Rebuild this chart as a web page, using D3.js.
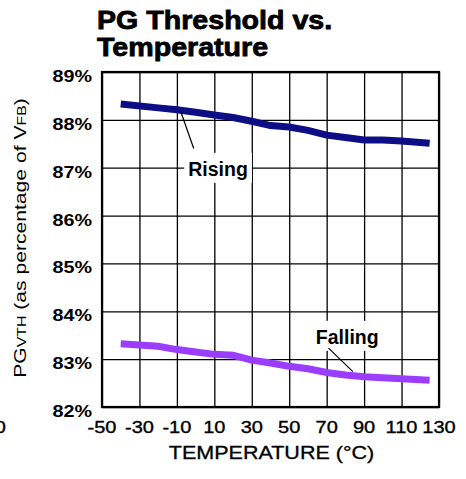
<!DOCTYPE html>
<html>
<head>
<meta charset="utf-8">
<script src="https://cdn.jsdelivr.net/npm/d3@7"></script>
<style>
  body { margin: 0; background: #fff; }
  text { font-family: "Liberation Sans", Arial, sans-serif; fill: #000; }
</style>
</head>
<body>
<div id="chart"></div>
<script>
// data

var temps = [-40, -20, -10, 0, 10, 20, 30, 40, 50, 60, 70, 80, 90, 100, 110, 125];
var rising = [88.33, 88.25, 88.21, 88.16, 88.10, 88.05, 87.97, 87.88, 87.85, 87.78, 87.68, 87.63, 87.58, 87.58, 87.56, 87.51];
var falling = [83.32, 83.27, 83.20, 83.15, 83.10, 83.08, 82.98, 82.92, 82.85, 82.80, 82.72, 82.67, 82.63, 82.61, 82.59, 82.56];

var xTicks = [-50, -30, -10, 10, 30, 50, 70, 90, 110, 130];
var yTicks = [82, 83, 84, 85, 86, 87, 88, 89];

var titleLines = ["PG Threshold vs.", "Temperature"];

// label position (temp, value) and leader line (from, to) in data units
var notes = [
  { text: "Rising", at: [12, 86.83], from: [-8, 88.18], to: [-1, 87.4] },
  { text: "Falling", at: [81, 83.32], from: [71, 83.23], to: [84, 82.74] }
];

var width = 466,
  height = 479;

var margin = { top: 72, right: 27, bottom: 72, left: 102 };

var x = d3.scaleLinear()
    .domain([-50, 130])
    .range([margin.left, width - margin.right]);

var y = d3.scaleLinear()
    .domain([82, 89])
    .range([height - margin.bottom, margin.top]);

var svg = d3.select("#chart").append("svg")
    .attr("width", width)
    .attr("height", height);

// grid

svg.append("g")
  .attr("transform", "translate(0," + y(82) + ")")
  .call(d3.axisBottom(x).tickValues(xTicks).tickSize(-(y(82) - y(89))).tickFormat(""))
  .call(function(g) { g.select(".domain").remove(); })
  .selectAll("line").attr("stroke", "#000").attr("stroke-width", 1.3);

svg.append("g")
  .attr("transform", "translate(" + x(-50) + ",0)")
  .call(d3.axisLeft(y).tickValues(yTicks).tickSize(-(x(130) - x(-50))).tickFormat(""))
  .call(function(g) { g.select(".domain").remove(); })
  .selectAll("line").attr("stroke", "#000").attr("stroke-width", 1.3);

svg.append("rect")
  .attr("x", x(-50))
  .attr("y", y(89))
  .attr("width", x(130) - x(-50))
  .attr("height", y(82) - y(89))
  .attr("fill", "none")
  .attr("stroke", "#000")
  .attr("stroke-width", 2.2);

// tick labels

svg.selectAll("text.ytick")
  .data(yTicks)
  .enter().append("text")
  .attr("class", "ytick")
  .attr("transform", function(d) { return "translate(92," + (y(d) + 10) + ") scale(1.16,1)"; })
  .attr("text-anchor", "end")
  .style("font-size", "17px")
  .style("font-weight", "bold")
  .text(function(d) { return d + "%"; });

svg.selectAll("text.xtick")
  .data(xTicks)
  .enter().append("text")
  .attr("class", "xtick")
  .attr("transform", function(d) { return "translate(" + x(d) + ",433) scale(1.25,1)"; })
  .attr("text-anchor", "middle")
  .style("font-size", "16px")
  .style("stroke", "#000")
  .style("stroke-width", 0.35)
  .text(function(d) { return d; });

// stray clipped label at the left edge
svg.append("text")
  .attr("transform", "translate(6,433) scale(1.25,1)")
  .attr("text-anchor", "end")
  .style("font-size", "16px")
  .style("stroke", "#000")
  .style("stroke-width", 0.35)
  .text("0");

// axis titles

svg.append("text")
  .attr("transform", "translate(271.5,459) scale(1.23,1)")
  .attr("text-anchor", "middle")
  .style("font-size", "17.5px")
  .style("stroke", "#000")
  .style("stroke-width", 0.3)
  .text("TEMPERATURE (°C)");

var yt = svg.append("text")
  .attr("transform", "translate(26,238) rotate(-90) scale(1.32,1)")
  .attr("text-anchor", "middle")
  .style("font-size", "16px");
yt.append("tspan").text("PG");
yt.append("tspan").style("font-size", "12px").text("VTH");
yt.append("tspan").text(" (as percentage of V");
yt.append("tspan").style("font-size", "12px").text("FB");
yt.append("tspan").text(")");

// title

svg.selectAll("text.title")
  .data(titleLines)
  .enter().append("text")
  .attr("class", "title")
  .attr("transform", function(d, i) { return "translate(97," + (29 + i * 27) + ") scale(1.1,1)"; })
  .style("font-size", "26px")
  .style("font-weight", "bold")
  .style("stroke", "#000")
  .style("stroke-width", 0.8)
  .text(function(d) { return d; });

// lines

var line = d3.line()
    .x(function(d) { return x(d[0]); })
    .y(function(d) { return y(d[1]); });

svg.append("path")
  .datum(d3.zip(temps, rising))
  .attr("d", line)
  .attr("fill", "none")
  .attr("stroke", "#0d0d85")
  .attr("stroke-width", 7);

svg.append("path")
  .datum(d3.zip(temps, falling))
  .attr("d", line)
  .attr("fill", "none")
  .attr("stroke", "#9b3dff")
  .attr("stroke-width", 7);

// annotations

notes.forEach(function(n) {
  var g = svg.append("g");
  var box = g.append("rect").attr("fill", "#fff");
  var t = g.append("text")
    .attr("x", x(n.at[0]))
    .attr("y", y(n.at[1]))
    .attr("text-anchor", "middle")
    .style("font-size", "19.5px")
    .style("font-weight", "bold")
    .text(n.text);
  var b = t.node().getBBox();
  box.attr("x", b.x - 4).attr("y", b.y - 5)
    .attr("width", b.width + 8).attr("height", b.height + 8);
  g.append("line")
    .attr("x1", x(n.from[0])).attr("y1", y(n.from[1]))
    .attr("x2", x(n.to[0])).attr("y2", y(n.to[1]))
    .attr("stroke", "#000")
    .attr("stroke-width", 1.2);
});
</script>
</body>
</html>
